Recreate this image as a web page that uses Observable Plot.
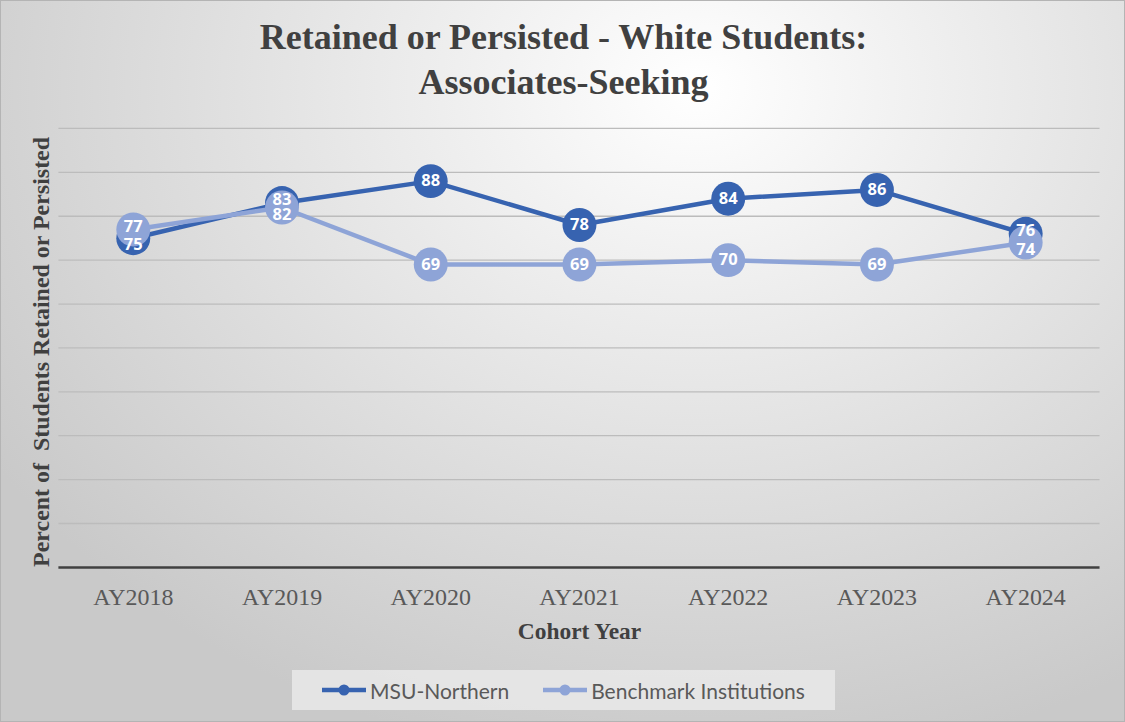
<!DOCTYPE html>
<html>
<head>
<meta charset="utf-8">
<script src="https://cdn.jsdelivr.net/npm/d3@7"></script>
<script src="https://cdn.jsdelivr.net/npm/@observablehq/plot@0.6"></script>
<style>
  html, body { margin: 0; padding: 0; }
  #wrap {
    position: relative; width: 1125px; height: 722px; overflow: hidden; box-sizing: border-box;
    border: 1px solid #b4b4b4;
    background: radial-gradient(ellipse 75% 95% at 62% 12%, #ffffff 0%, #f1f1f1 25%, #dedede 60%, #c9c9c9 100%);
  }
  #title {
    position: absolute; left: 0; top: 14px; width: 1125px; text-align: center;
    font-family: "Liberation Serif", serif; font-weight: bold; font-size: 36px; line-height: 45px; color: #404040;
  }
  #chart { position: absolute; left: 0; top: 110px; }
  #legend {
    position: absolute; left: 291px; top: 669px; width: 543px; height: 40px;
    background: rgba(236,236,236,0.75);
    display: flex; align-items: center; justify-content: center; gap: 34px;
    font-family: Lato, "Noto Sans", sans-serif; font-size: 21px; color: #595959;
  }
  .item { display: flex; align-items: center; gap: 4px; }
</style>
</head>
<body>
<div id="wrap">
  <div id="title"></div>
  <div id="chart"></div>
  <div id="legend"></div>
</div>
<script>
const titleLines = ["Retained or Persisted - White Students:", "Associates-Seeking"];
const years = ["AY2018", "AY2019", "AY2020", "AY2021", "AY2022", "AY2023", "AY2024"];
const seriesNames = ["MSU-Northern", "Benchmark Institutions"];
const msuValues = [75, 83, 88, 78, 84, 86, 76];
const benchValues = [77, 82, 69, 69, 70, 69, 74];
const seriesColors = ["#3763B0", "#8EA4D7"];
const gridTicks = [10, 20, 30, 40, 50, 60, 70, 80, 90, 100];
const xLabel = "Cohort Year";
const yLabel = "Percent of  Students Retained or Persisted";

document.getElementById("title").innerHTML = titleLines.join("<br>");

const allValues = [msuValues, benchValues];
const rows = [];
seriesNames.forEach((s, si) => {
  years.forEach((yr, i) => {
    const v = allValues[si][i];
    const other = allValues[1 - si][i];
    let dy = 0;
    if (Math.abs(v - other) <= 3) dy = v >= other ? -3 : 7;
    rows.push({series: s, year: yr, value: v, dy});
  });
});

const marks = [
  Plot.ruleY(gridTicks, {stroke: "#bcbcbc", strokeWidth: 1.3}),
  Plot.ruleY([0], {stroke: "#404040", strokeWidth: 2.5}),
  Plot.axisX({tickSize: 0, tickPadding: 21, label: null, fill: "#595959", fontSize: 24}),
  Plot.text([xLabel], {frameAnchor: "bottom", lineAnchor: "top", dy: 55, fontWeight: "bold", fontSize: 23.5, fill: "#404040"}),
  Plot.text([yLabel], {frameAnchor: "left", textAnchor: "middle", rotate: -90, dx: -18, dy: 4, lineAnchor: "middle", fontWeight: "bold", fontSize: 24, fill: "#404040"})
];
seriesNames.forEach((s, si) => {
  const d = rows.filter(r => r.series === s);
  marks.push(Plot.line(d, {x: "year", y: "value", stroke: seriesColors[si], strokeWidth: 4.5}));
  marks.push(Plot.dot(d, {x: "year", y: "value", r: 17, fill: seriesColors[si], stroke: "none"}));
});
seriesNames.forEach((s, si) => {
  const d = rows.filter(r => r.series === s);
  const dyVals = [...new Set(d.map(r => r.dy))];
  dyVals.forEach(dv => {
    marks.push(Plot.text(d.filter(r => r.dy === dv), {
      x: "year", y: "value", text: d => String(d.value), dy: dv,
      fill: "white", fontWeight: "bold", fontSize: 16.5, fontFamily: "Open Sans, sans-serif"
    }));
  });
});

const chart = Plot.plot({
  width: 1125, height: 540,
  marginLeft: 57.5, marginRight: 24.5, marginTop: 17, marginBottom: 83.3,
  style: {background: "transparent", fontFamily: "Liberation Serif, serif", fontSize: "22px", overflow: "visible"},
  x: {type: "point", domain: years, padding: 0.5, label: null},
  y: {domain: [0, 100], axis: null},
  marks
});
document.getElementById("chart").appendChild(chart);

const legend = document.getElementById("legend");
seriesNames.forEach((s, si) => {
  const item = document.createElement("div");
  item.className = "item";
  item.innerHTML = `<svg width="44" height="14"><line x1="0" y1="7" x2="44" y2="7" stroke="${seriesColors[si]}" stroke-width="4.5"/><circle cx="22" cy="7" r="5.5" fill="${seriesColors[si]}"/></svg><span>${s}</span>`;
  legend.appendChild(item);
});
</script>
</body>
</html>
